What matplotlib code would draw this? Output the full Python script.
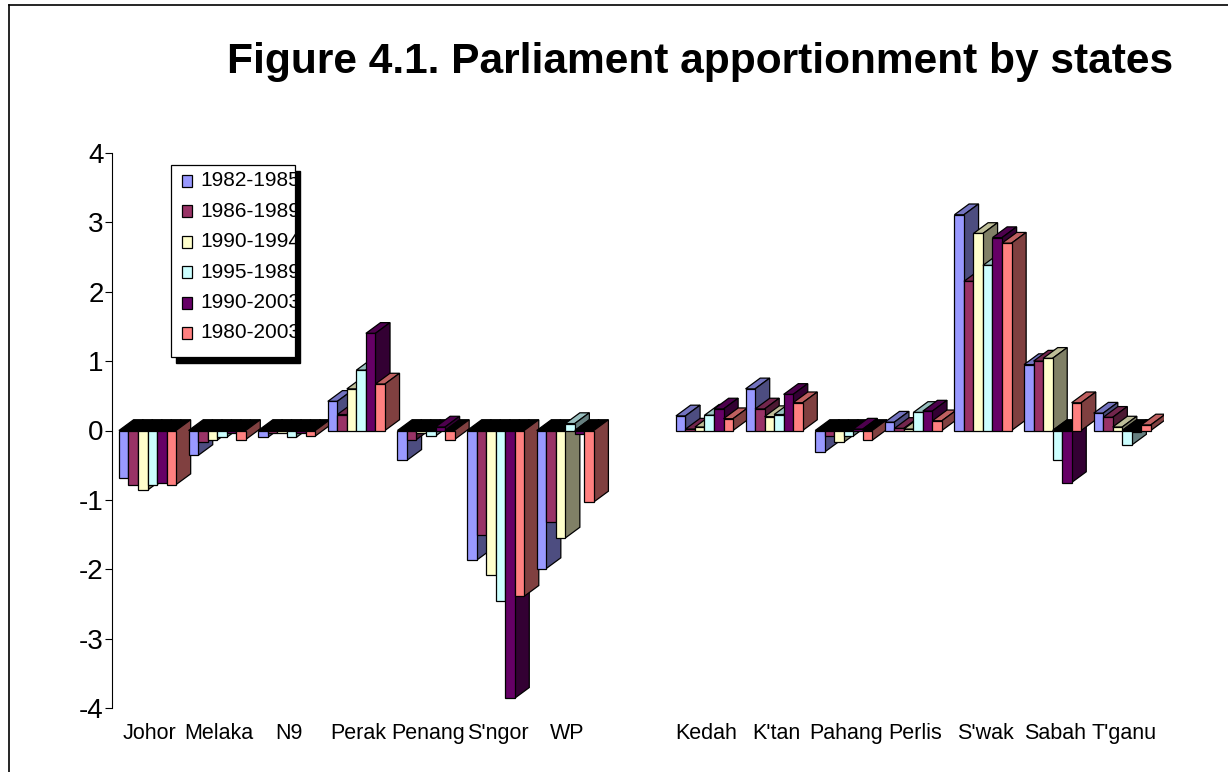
import numpy as np
import matplotlib.pyplot as plt
from matplotlib.patches import Polygon, Rectangle
from matplotlib.lines import Line2D
from matplotlib.colors import to_rgb

plt.rcParams['font.family'] = ['Liberation Sans', 'DejaVu Sans']
plt.rcParams['axes.unicode_minus'] = False

states = ["Johor", "Melaka", "N9", "Perak", "Penang", "S'ngor", "WP", "",
          "Kedah", "K'tan", "Pahang", "Perlis", "S'wak", "Sabah", "T'ganu"]
periods = ["1982-1985", "1986-1989", "1990-1994", "1995-1989", "1990-2003", "1980-2003"]
colors = ["#9999FF", "#993366", "#FFFFCC", "#CCFFFF", "#660066", "#FF8080"]

nan = np.nan
p1982_1985 = [-0.68, -0.36, -0.10, 0.42, -0.43, -1.87, -1.99, nan, 0.21, 0.60, -0.31, 0.12, 3.11, 0.95, 0.25]
p1986_1989 = [-0.78, -0.16, -0.03, 0.23, -0.13, -1.50, -1.32, nan, 0.02, 0.31, -0.08, 0.03, 2.15, 1.00, 0.19]
p1990_1994 = [-0.86, -0.14, -0.04, 0.60, -0.03, -2.08, -1.55, nan, 0.05, 0.20, -0.17, 0.02, 2.84, 1.04, 0.05]
p1995_1989 = [-0.78, -0.10, -0.10, 0.87, -0.08, -2.46, 0.10, nan, 0.22, 0.23, -0.08, 0.26, 2.38, -0.43, -0.21]
p1990_2003 = [-0.76, -0.03, -0.03, 1.40, 0.05, -3.86, -0.05, nan, 0.31, 0.52, 0.02, 0.28, 2.78, -0.75, -0.02]
p1980_2003 = [-0.78, -0.13, -0.08, 0.67, -0.13, -2.39, -1.03, nan, 0.17, 0.40, -0.14, 0.14, 2.70, 0.40, 0.08]
series = [p1982_1985, p1986_1989, p1990_1994, p1995_1989, p1990_2003, p1980_2003]

W, H = 1228, 772
fig = plt.figure(figsize=(W / 100, H / 100), dpi=100)
ax = fig.add_axes([112 / W, 64 / H, (1164 - 112) / W, (708 - 153) / H])

n = len(series)
w = 0.82 / n
dx, dy = 0.21, 0.155   # depth of the 3d boxes in data units
x = np.arange(len(states))

z = 2
for i in range(len(states)):
    for j in range(n):
        v = series[j][i]
        if np.isnan(v):
            continue
        c = np.array(to_rgb(colors[j]))
        x0 = x[i] - 0.41 + j * w
        x1 = x0 + w
        lo, hi = min(v, 0), max(v, 0)
        top_col = c * 0.75 if v > 0 else "black"
        ax.add_patch(Polygon([(x0, hi), (x0 + dx, hi + dy), (x1 + dx, hi + dy), (x1, hi)],
                             closed=True, fc=top_col, ec="black", lw=0.9, zorder=z))
        ax.add_patch(Polygon([(x1, lo), (x1 + dx, lo + dy), (x1 + dx, hi + dy), (x1, hi)],
                             closed=True, fc=c * 0.5, ec="black", lw=0.9, zorder=z))
        ax.bar(x0, v, width=w, align="edge", color=colors[j], edgecolor="black",
               linewidth=0.9, zorder=z + 1)
        z += 2

ax.set_xlim(-0.51, 14.6)
ax.set_ylim(-4, 4)
ax.set_yticks(range(-4, 5))
ax.tick_params(axis="y", labelsize=20, length=5, pad=1, width=0.8)
ax.set_xticks(x + 0.03)
ax.set_xticklabels(states, fontsize=15.5)
ax.tick_params(axis="x", length=0, pad=11)
for s in ["top", "right", "bottom"]:
    ax.spines[s].set_visible(False)
ax.spines["left"].set_linewidth(0.8)

fig.text(700 / W, 1 - 62 / H, "Figure 4.1. Parliament apportionment by states",
         fontsize=30.6, fontweight="bold", ha="center", va="center")

# legend box with shadow, text cut at the right edge
lx0, lx1, ly0, ly1 = 171, 295, 165, 357
tf = fig.transFigure
fig.add_artist(Rectangle(((lx0 + 5) / W, 1 - (ly1 + 6) / H), (lx1 - lx0) / W, (ly1 - ly0) / H,
                         transform=tf, fc="black", ec="black", zorder=20))
box = Rectangle((lx0 / W, 1 - ly1 / H), (lx1 - lx0) / W, (ly1 - ly0) / H,
                transform=tf, fc="white", ec="black", lw=0.9, zorder=21)
fig.add_artist(box)
for j, lab in enumerate(periods):
    yc = 181 + j * 30.4
    fig.add_artist(Rectangle((182 / W, 1 - (yc + 6) / H), 10 / W, 12 / H, transform=tf,
                             fc=colors[j], ec="black", lw=0.9, zorder=22))
    t = fig.text(200 / W, 1 - yc / H, lab, fontsize=15, ha="left", va="center", zorder=22)
    t.set_clip_on(True)
    t.set_clip_path(box)

# outer frame
fig.add_artist(Line2D([9 / W, 9 / W], [0, 1 - 5 / H], transform=tf, color="black", lw=1.2))
fig.add_artist(Line2D([9 / W, 1], [1 - 5 / H, 1 - 5 / H], transform=tf, color="black", lw=1.2))

fig.savefig("out.png", dpi=100)
